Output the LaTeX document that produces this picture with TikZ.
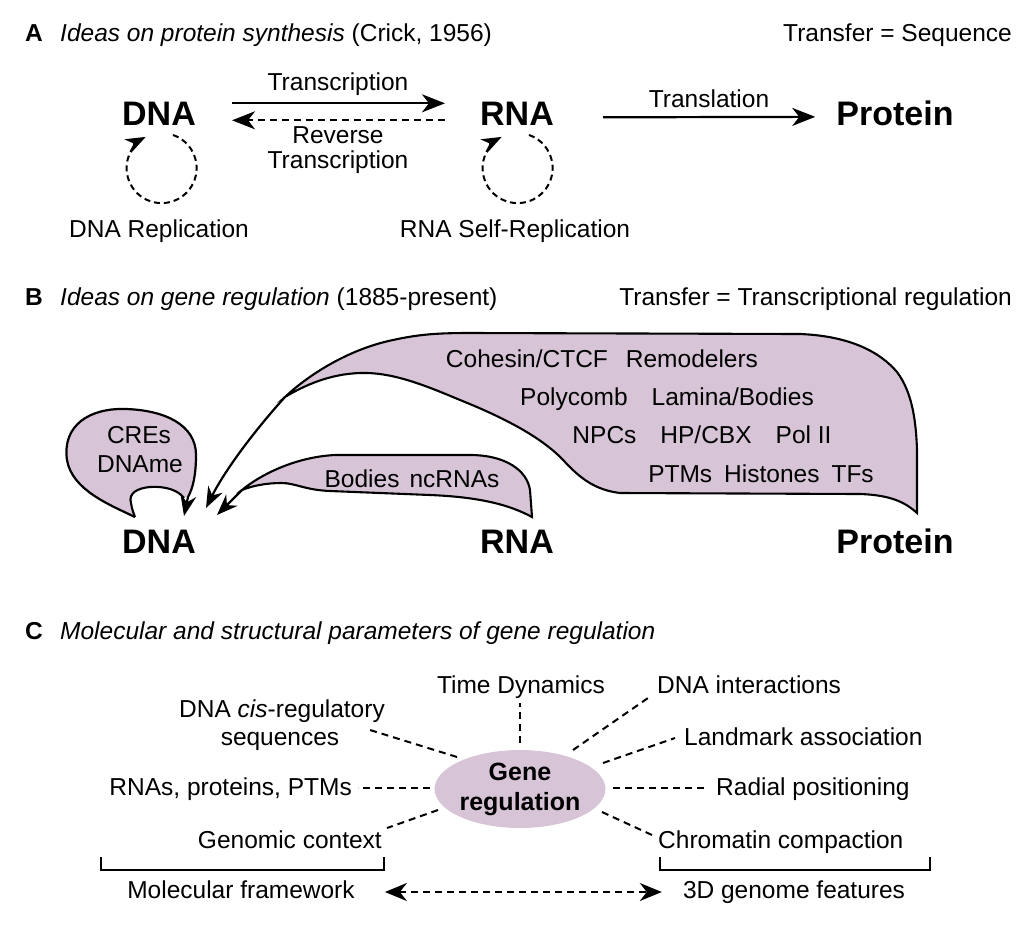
\documentclass[tikz,border=0pt]{standalone}
\usepackage{fontspec}
\setmainfont{Liberation Sans}
\usetikzlibrary{arrows.meta,shapes.geometric}
\definecolor{mauve}{RGB}{215,197,215}
\begin{document}
\begin{tikzpicture}[x=1pt,y=-1pt,
  txt/.style={font=\fontsize{24.5}{29}\selectfont, inner sep=0pt},
  big/.style={font=\fontsize{34}{40}\selectfont\bfseries, inner sep=0pt},
  lab/.style={font=\fontsize{24.5}{29}\selectfont\bfseries, inner sep=0pt},
  arr/.style={line width=2.2pt, -{Stealth[length=23pt,width=18pt,inset=7pt]}},
  barr/.style={line width=2.2pt, -{Stealth[length=21pt,width=16pt,inset=7pt]}},
  darr/.style={arr, dash pattern=on 7pt off 5pt},
  dloop/.style={line width=2pt, dash pattern=on 6pt off 4pt, -{Stealth[length=20pt,width=15pt,inset=6pt]}},
  bub/.style={fill=mauve, draw=black, line width=2.1pt},
  ol/.style={draw=black, line width=2.1pt},
  dl/.style={line width=2pt, dash pattern=on 7pt off 5pt},
  brk/.style={line width=1.8pt},
  dbl/.style={line width=2pt, dash pattern=on 7pt off 5pt, {Stealth[length=22pt,width=18pt,inset=7pt]}-{Stealth[length=22pt,width=18pt,inset=7pt]}}
]
\useasboundingbox (0,0) rectangle (1030,932);

% ---------------- Panel A ----------------
\node[lab, anchor=base west] (labA) at (25,41) {A};
\node[txt, anchor=base west] (titA) at (60,41) {\textit{Ideas on protein synthesis} (Crick, 1956)};
\node[txt, anchor=base east] (trA) at (1012,41) {Transfer = Sequence};

\node[big, anchor=base] (dnaA) at (159,125) {DNA};
\node[big, anchor=base] (rnaA) at (517,125) {RNA};
\node[big, anchor=base] (protA) at (895,125) {Protein};

\draw[arr] ([xshift=36pt,yshift=10pt]dnaA.east) -- ([xshift=-35pt,yshift=10pt]rnaA.west);
\draw[darr] ([xshift=-35pt,yshift=-7pt]rnaA.west) -- ([xshift=36pt,yshift=-7pt]dnaA.east);
\draw[arr] ([xshift=49pt,yshift=-4pt]rnaA.east) -- ([xshift=-21pt,yshift=-4pt]protA.west);

\node[txt, anchor=base] (lTr) at (338,90) {Transcription};
\node[txt, anchor=base] (lRev1) at (338,143) {Reverse};
\node[txt, anchor=base] (lRev2) at (338,168) {Transcription};
\node[txt, anchor=base] (lTl) at (709,107) {Translation};

\draw[dloop] ([shift={(14,10)}]dnaA.base) arc[start angle=-71, end angle=243, radius=35];
\draw[dloop] ([shift={(12,10)}]rnaA.base) arc[start angle=-71, end angle=243, radius=35];

\node[txt, anchor=base] (lDR) at (159,237) {DNA Replication};
\node[txt, anchor=base] (lRR) at (515,237) {RNA Self-Replication};

% ---------------- Panel B ----------------
\node[lab, anchor=base west] (labB) at (25,305) {B};
\node[txt, anchor=base west] (titB) at (60,305) {\textit{Ideas on gene regulation} (1885-present)};
\node[txt, anchor=base east] (trB) at (1012,305) {Transfer = Transcriptional regulation};

\node[big, anchor=base] (dnaB) at (159,553) {DNA};
\node[big, anchor=base] (rnaB) at (517,553) {RNA};
\node[big, anchor=base] (protB) at (895,553) {Protein};

\coordinate (tipC) at ([shift={(25,-37)}]dnaB.base);
\coordinate (tipP) at ([shift={(47,-45)}]dnaB.base);
\coordinate (tipR) at ([shift={(58,-38)}]dnaB.base);

% big protein bubble
\filldraw[bub] (285,397) .. controls (305,378) and (345,350) .. (393,340)
  .. controls (420,334) and (440,333) .. (470,333) -- (800,334)
  .. controls (850,336) and (880,352) .. (897,372)
  .. controls (912,392) and (916,420) .. (917,450) -- (917,513)
  .. controls (905,502) and (890,495) .. (860,494) -- (620,493)
  .. controls (595,490) and (580,478) .. (565,462)
  .. controls (545,440) and (510,420) .. (460,400)
  .. controls (420,383) and (390,372) .. (360,373)
  .. controls (330,374) and (305,385) .. (285,397) -- cycle;
\draw[barr] (285,397) .. controls (255,430) and (225,470) .. (tipP);

% RNA bubble
\filldraw[bub] (242,490) .. controls (260,475) and (295,457) .. (335,455) -- (470,455)
  .. controls (505,455) and (527,470) .. (530,490) -- (532,517)
  .. controls (510,505) and (480,497) .. (430,495) -- (330,491)
  .. controls (305,490) and (295,483) .. (282,483)
  .. controls (265,483) and (252,486) .. (242,490) -- cycle;
\draw[barr] (242,490) -- (tipR);

% CREs bubble
\fill[mauve] (135,517) .. controls (110,505) and (72,490) .. (67,460)
  .. controls (62,425) and (90,408) .. (125,409)
  .. controls (165,410) and (196,425) .. (196,455)
  .. controls (196,475) and (193,488) .. (188,497) -- (182,497)
  .. controls (178,490) and (165,486) .. (150,487)
  .. controls (138,488) and (128,493) .. (131,503)
  .. controls (132,510) and (134,514) .. (135,517) -- cycle;
\draw[ol] (184,498) .. controls (178,490) and (165,486) .. (150,487)
  .. controls (138,488) and (128,493) .. (131,503)
  .. controls (132,510) and (134,514) .. (135,517);
\draw[barr] (135,517) .. controls (110,505) and (72,490) .. (67,460)
  .. controls (62,425) and (90,408) .. (125,409)
  .. controls (165,410) and (196,425) .. (196,455)
  .. controls (196,475) and (193,488) .. (188,497) -- (tipC);

\node[txt, anchor=base] (tCRE) at (139,443) {CREs};
\node[txt, anchor=base] (tDNAme) at (140,472) {DNAme};
\node[txt, anchor=base] (tRNAb) at (412,487) {Bodies\hspace{10pt}ncRNAs};
\node[txt, anchor=base] (tP1) at (602,367) {Cohesin/CTCF\hspace{18pt}Remodelers};
\node[txt, anchor=base] (tP2) at (667,405) {Polycomb\hspace{24pt}Lamina/Bodies};
\node[txt, anchor=base] (tP3) at (702,443) {NPCs\hspace{24pt}HP/CBX\hspace{24pt}Pol II};
\node[txt, anchor=base] (tP4) at (761,482) {PTMs\hspace{12pt}Histones\hspace{12pt}TFs};

% ---------------- Panel C ----------------
\node[lab, anchor=base west] (labC) at (25,639) {C};
\node[txt, anchor=base west] (titC) at (60,639) {\textit{Molecular and structural parameters of gene regulation}};

\node[ellipse, fill=mauve, inner sep=0pt, minimum width=170pt, minimum height=78pt,
      align=center, font=\fontsize{25}{30}\selectfont\bfseries] (gene) at (520,789) {Gene\\regulation};

\node[txt, anchor=base] (cTime) at (521,693) {Time Dynamics};
\node[txt, anchor=base west] (cInt) at (657,693) {DNA interactions};
\node[txt, anchor=base] (cCis1) at (282,717) {DNA \textit{cis}-regulatory};
\node[txt, anchor=base] (cCis2) at (280,745) {sequences};
\node[txt, anchor=base west] (cLand) at (684,745) {Landmark association};
\node[txt, anchor=base east] (cRNA) at (352,795) {RNAs, proteins, PTMs};
\node[txt, anchor=base west] (cRad) at (716,795) {Radial positioning};
\node[txt, anchor=base east] (cGen) at (382,848) {Genomic context};
\node[txt, anchor=base west] (cChr) at (658,848) {Chromatin compaction};

\draw[dl] ([shift={(0,-46)}]gene.center) -- ([shift={(-1,10)}]cTime.base);
\draw[dl] ([shift={(53,-39)}]gene.center) -- ([shift={(-9,5)}]cInt.base west);
\draw[dl] ([shift={(83,-26)}]gene.center) -- ([shift={(-9,-7)}]cLand.base west);
\draw[dl] ([shift={(93,-1)}]gene.center) -- ([shift={(-11,-7)}]cRad.base west);
\draw[dl] ([shift={(82,23)}]gene.center) -- ([shift={(-6,-13)}]cChr.base west);
\draw[dl] ([shift={(-82,21)}]gene.center) -- ([shift={(5,-20)}]cGen.base east);
\draw[dl] ([shift={(-90,-1)}]gene.center) -- ([shift={(6,-7)}]cRNA.base east);
\draw[dl] ([shift={(-63,-32)}]gene.center) -- ([shift={(90,-15)}]cCis2.base);

\draw[brk] (101,857) -- (101,870) -- (384,870) -- (384,857);
\draw[brk] (660,857) -- (660,870) -- (930,870) -- (930,857);

\node[txt, anchor=base] (cMol) at (241,898) {Molecular framework};
\node[txt, anchor=base] (c3D) at (794,898) {3D genome features};
\draw[dbl] ([xshift=30pt,yshift=6pt]cMol.base east) -- ([xshift=-21pt,yshift=6pt]c3D.base west);
\end{tikzpicture}
\end{document}
